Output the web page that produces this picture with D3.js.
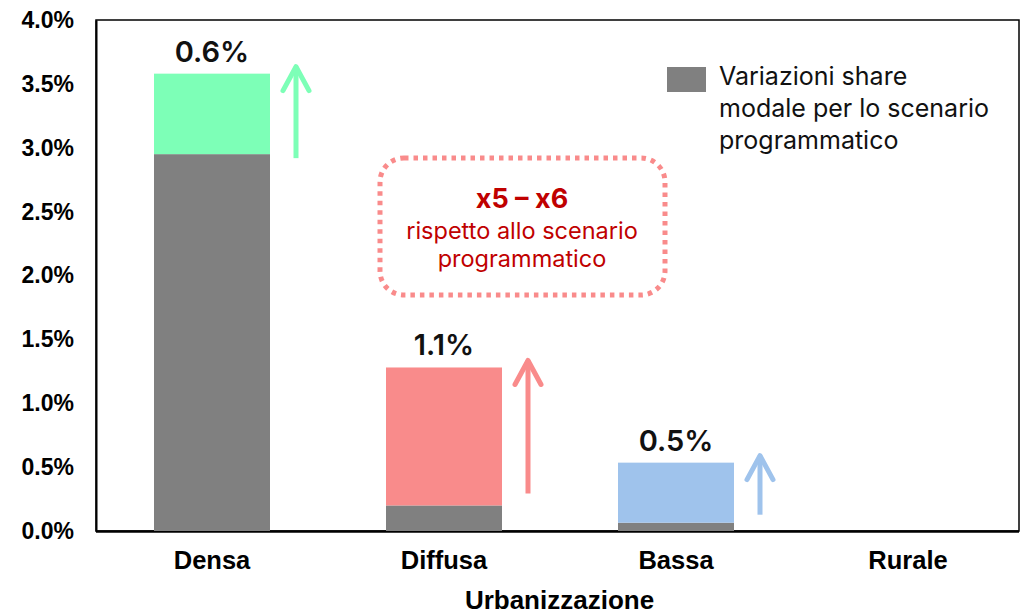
<!DOCTYPE html>
<html><head><meta charset="utf-8">
<script src="https://cdn.jsdelivr.net/npm/d3@7"></script>
<style>body{margin:0;background:#fff}svg{display:block}</style>
</head><body>
<svg id="c" width="1026" height="615"></svg>
<script>
const categories = ["Densa","Diffusa","Bassa","Rurale"];
const baseValues = [2.95, 0.20, 0.065, 0];       // Variazioni share modale scenario programmatico (%)
const increments = [0.63, 1.08, 0.47, 0];        // incremento (%)
const incLabels = ["0.6%","1.1%","0.5%",""];
const incColors = ["#7dffb7","#f98b8b","#9fc3ec",null];
const yTicks = [0,0.5,1,1.5,2,2.5,3,3.5,4];
const legendLines = ["Variazioni share","modale per lo scenario","programmatico"];
const noteTitle = "x5 – x6";
const noteLines = ["rispetto allo scenario","programmatico"];
const xTitle = "Urbanizzazione";

const svg = d3.select("#c");
const L=96, R=1019, T=20, B=531;
const x = d3.scaleBand().domain(categories).range([L,1024]).paddingInner(0.5).paddingOuter(0.25);
const y = d3.scaleLinear().domain([0,4]).range([B,T]);
const bw = x.bandwidth();

// frame
svg.append("rect").attr("x",L).attr("y",T).attr("width",R-L).attr("height",B-T)
  .attr("fill","none").attr("stroke","#000").attr("stroke-width",1.5);

// y axis
const ya = svg.append("g").attr("transform",`translate(${L},0)`)
  .call(d3.axisLeft(y).tickValues(yTicks).tickFormat(d=>d3.format(".1f")(d)+"%").tickSize(0).tickPadding(22));
ya.select(".domain").attr("stroke","#000").attr("stroke-width",2);
ya.selectAll("text").attr("font-family","Liberation Sans, Arial, sans-serif").attr("font-weight","bold")
  .attr("font-size",23).attr("fill","#000");

// x axis
const xa = svg.append("g").attr("transform",`translate(0,${B})`)
  .call(d3.axisBottom(x).tickSize(0).tickPadding(20));
xa.select(".domain").attr("stroke","#000").attr("stroke-width",2.5).attr("d",`M${L},0.5H${R}`);
xa.selectAll("text").attr("font-family","Liberation Sans, Arial, sans-serif").attr("font-weight","bold")
  .attr("font-size",25.5).attr("fill","#000");

svg.append("text").attr("x",(L+R)/2+2).attr("y",609).attr("text-anchor","middle")
  .attr("font-family","Liberation Sans, Arial, sans-serif").attr("font-weight","bold").attr("font-size",26)
  .text(xTitle);

const data = categories.map((c,i)=>({c, base:baseValues[i], inc:increments[i], lab:incLabels[i], col:incColors[i]}));

// base bars
svg.selectAll(".base").data(data).join("rect").attr("class","base")
  .attr("x",d=>x(d.c)).attr("width",bw)
  .attr("y",d=>y(d.base)).attr("height",d=>y(0)-y(d.base)).attr("fill","#808080");
// increment bars
svg.selectAll(".inc").data(data.filter(d=>d.inc>0)).join("rect").attr("class","inc")
  .attr("x",d=>x(d.c)).attr("width",bw)
  .attr("y",d=>y(d.base+d.inc)).attr("height",d=>y(d.base)-y(d.base+d.inc)).attr("fill",d=>d.col);
// labels
svg.selectAll(".lab").data(data.filter(d=>d.inc>0)).join("text").attr("class","lab")
  .attr("x",d=>x(d.c)+bw/2).attr("y",d=>y(d.base+d.inc)-12).attr("text-anchor","middle")
  .attr("font-family","Inter, sans-serif").attr("font-weight",600).attr("font-size",29).attr("fill","#111")
  .text(d=>d.lab);
// arrows
data.filter(d=>d.inc>0).forEach(d=>{
  const ax = x(d.c)+bw+26;
  const y0 = y(d.base)-(d.base<0.5? 12:-4)+ (d.base<0.1?4:0);
  const y1 = y(d.base+d.inc)-9;
  const g = svg.append("g").attr("stroke",d.col).attr("stroke-width",5).attr("fill","none");
  g.append("line").attr("x1",ax).attr("x2",ax).attr("y1",y0).attr("y2",y1+2);
  g.append("path").attr("d",`M${ax-13},${y1+26} L${ax},${y1+2} L${ax+13},${y1+26}`)
    .attr("stroke-linecap","round").attr("stroke-linejoin","round");
});

// legend
svg.append("rect").attr("x",667).attr("y",67).attr("width",39).attr("height",25).attr("fill","#808080");
svg.append("g").selectAll("text").data(legendLines).join("text")
  .attr("x",719).attr("y",(d,i)=>85+i*32).attr("font-family","Inter, sans-serif").attr("font-size",25)
  .attr("fill","#111").text(d=>d);

// note box
svg.append("rect").attr("x",380).attr("y",158).attr("width",285).attr("height",137).attr("rx",24)
  .attr("fill","none").attr("stroke","#f98b8b").attr("stroke-width",5).attr("stroke-dasharray","4.5 5");
svg.append("text").attr("x",522).attr("y",208).attr("text-anchor","middle")
  .attr("font-family","Inter, sans-serif").attr("font-weight",700).attr("font-size",27).attr("fill","#c00000")
  .text(noteTitle);
svg.append("g").selectAll("text").data(noteLines).join("text")
  .attr("x",522).attr("y",(d,i)=>239+i*28).attr("text-anchor","middle")
  .attr("font-family","Inter, sans-serif").attr("font-size",23.5).attr("fill","#c00000").text(d=>d);
</script>
</body></html>
